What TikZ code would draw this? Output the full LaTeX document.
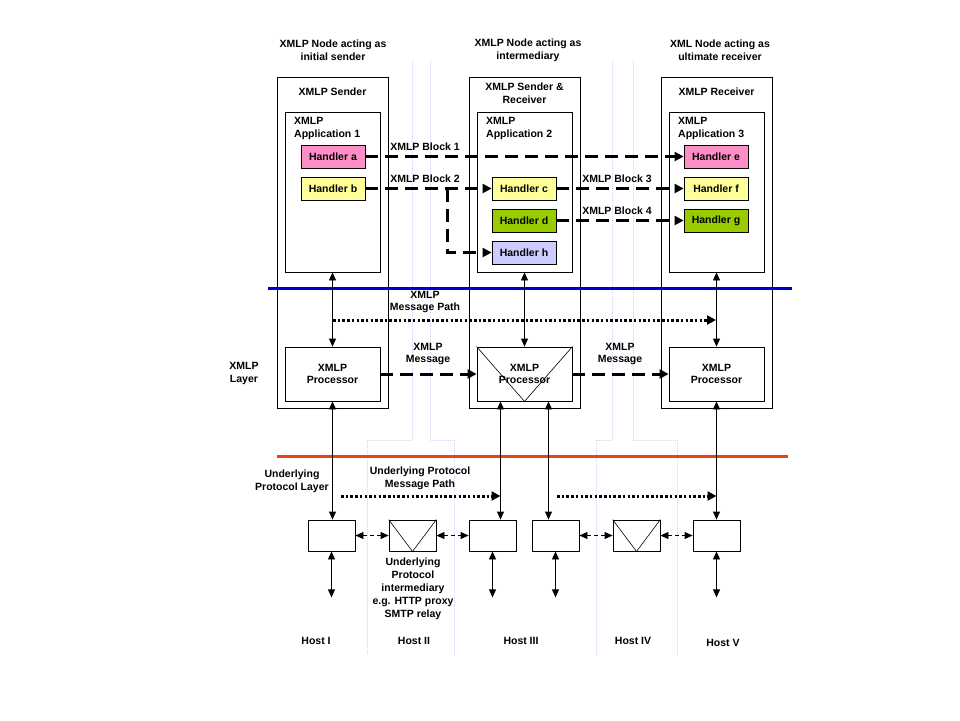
\documentclass[tikz,border=0pt]{standalone}
\usepackage{fontspec}
\setmainfont{Liberation Sans}
\usetikzlibrary{arrows.meta, positioning}

\definecolor{hpink}{HTML}{FF8EC8}
\definecolor{hyellow}{HTML}{FFFF99}
\definecolor{hgreen}{HTML}{99CC00}
\definecolor{hlav}{HTML}{CCCCFF}
\definecolor{layerblue}{HTML}{0000CC}
\definecolor{layerred}{HTML}{EE4018}
\definecolor{sepgrey}{HTML}{D4D4E8}

\tikzset{
  every node/.style={font=\fontsize{10.5}{12.7}\selectfont\bfseries},
  outerbox/.style={draw, line width=0.8pt, minimum width=111pt, minimum height=331pt, inner sep=0},
  appbox/.style={draw, line width=0.8pt, minimum width=95pt, minimum height=160pt, inner sep=0},
  handler/.style={draw, line width=0.8pt, minimum width=64pt, minimum height=23pt, inner sep=0},
  procbox/.style={draw, line width=0.8pt, minimum width=95pt, minimum height=54pt, align=center, inner sep=0},
  hostbox/.style={draw, line width=0.8pt, minimum width=47pt, minimum height=31pt, inner sep=0},
  lbl/.style={align=center, inner sep=0},
  blockarrow/.style={line width=3pt, dash pattern=on 13pt off 7pt, -{Triangle[length=9pt,width=9pt]}},
  patharrow/.style={line width=3pt, dash pattern=on 2.5pt off 2.2pt, -{Triangle[length=9pt,width=9pt]}},
  both/.style={line width=0.8pt, {Triangle[length=8pt,width=7pt]}-{Triangle[length=8pt,width=7pt]}},
  hop/.style={both, dash pattern=on 4pt off 3pt},
  sepline/.style={sepgrey, line width=0.8pt, dash pattern=on 1pt off 1pt}
}

\begin{document}
\begin{tikzpicture}[x=1pt, y=-1pt]
\useasboundingbox (0,0) rectangle (960,720);

% host separators
\draw[sepline] (412,60) -- (412,440) -- (367,440) -- (367,655);
\draw[sepline] (430,60) -- (430,440) -- (454,440) -- (454,655);
\draw[sepline] (612,60) -- (612,440) -- (596,440) -- (596,655);
\draw[sepline] (633,60) -- (633,440) -- (677,440) -- (677,655);

% the three XMLP nodes
\node[lbl] (top1) at (333,50.5) {XMLP Node acting as\\initial sender};
\node[lbl] (top2) at (528,50.5) {XMLP Node acting as\\intermediary};
\node[lbl] (top3) at (720,50.5) {XML Node acting as\\ultimate receiver};

\node[outerbox] (sender) at (332.5,242.5) {};
\node[outerbox] (inter) at (524.5,242.5) {};
\node[outerbox] (receiver) at (716.5,242.5) {};
\node[lbl] (sendertitle) at (332.5,92) {XMLP Sender};
\node[lbl] (intertitle) at (524.5,93.5) {XMLP Sender \&\\Receiver};
\node[lbl] (receivertitle) at (716.5,92) {XMLP Receiver};

\node[appbox] (app1) at (332.5,192) {};
\node[appbox] (app2) at (524.5,192) {};
\node[appbox] (app3) at (716.5,192) {};
\node[lbl, align=left, anchor=north west] (applbl1) at (294,117.5) {XMLP\\Application 1};
\node[lbl, align=left, anchor=north west] (applbl2) at (486,117.5) {XMLP\\Application 2};
\node[lbl, align=left, anchor=north west] (applbl3) at (678,117.5) {XMLP\\Application 3};

\node[handler, fill=hpink] (ha) at (333,156.5) {Handler a};
\node[handler, fill=hyellow] (hb) at (333,188.5) {Handler b};
\node[handler, fill=hyellow] (hc) at (524,188.5) {Handler c};
\node[handler, fill=hgreen] (hd) at (524,220.5) {Handler d};
\node[handler, fill=hlav] (hh) at (524,252.5) {Handler h};
\node[handler, fill=hpink] (he) at (716,156.5) {Handler e};
\node[handler, fill=hyellow] (hf) at (716,188.5) {Handler f};
\node[handler, fill=hgreen] (hg) at (716,220.5) {Handler g};

\node[lbl] (blk1) at (425,147) {XMLP Block 1};
\node[lbl] (blk2) at (425,179) {XMLP Block 2};
\node[lbl] (blk3) at (617,179) {XMLP Block 3};
\node[lbl] (blk4) at (617,211) {XMLP Block 4};

\draw[blockarrow] (ha) -- (he);
\draw[blockarrow] (hb) -- (hc);
\coordinate (split) at (447,188.5);
\draw[blockarrow] (split) |- (hh);
\draw[blockarrow] (hc) -- (hf);
\draw[blockarrow] (hd) -- (hg);

% layers
\draw[layerblue, line width=3pt] (268,288) -- (792,288);
\draw[layerred, line width=3pt] (277,456) -- (788,456);

\node[procbox] (proc1) at (332.5,374) {XMLP\\Processor};
\node[procbox] (proc2) at (524.5,374) {XMLP\\Processor};
\node[procbox] (proc3) at (716.5,374) {XMLP\\Processor};
\draw[line width=0.6pt] (proc2.north west) -- (proc2.south) -- (proc2.north east);

\draw[both] (app1) -- (proc1);
\draw[both] (app2) -- (proc2);
\draw[both] (app3) -- (proc3);

\node[lbl] (msgpath) at (425,302) {XMLP\\Message Path};
\coordinate (mpstart) at (333,320);
\coordinate (mpend) at (716,320);
\draw[patharrow] (mpstart) -- (mpend);

\node[lbl] (msg1) at (428,354) {XMLP\\Message};
\node[lbl] (msg2) at (620,354) {XMLP\\Message};
\draw[blockarrow] (proc1) -- (proc2);
\draw[blockarrow] (proc2) -- (proc3);

\node[lbl] (xmlplayer) at (244,373.5) {XMLP\\Layer};

% underlying protocol
\node[lbl] (uplayer) at (292,481) {Underlying\\Protocol Layer};
\node[lbl] (uppath) at (420,478) {Underlying Protocol\\Message Path};

\node[hostbox] (b1) at (331.5,535.5) {};
\node[hostbox] (b2) at (412.5,535.5) {};
\node[hostbox] (b3) at (492.5,535.5) {};
\node[hostbox] (b4) at (555.5,535.5) {};
\node[hostbox] (b5) at (636.5,535.5) {};
\node[hostbox] (b6) at (716.5,535.5) {};
\foreach \b in {b2,b5}
  \draw[line width=0.6pt] (\b.north west) -- (\b.south) -- (\b.north east);

\draw[both] (proc1.south) -- (proc1.south |- b1.north);
\draw[both] ([xshift=-24pt]proc2.south) -- ([xshift=-24pt]proc2.south |- b3.north);
\draw[both] ([xshift=24pt]proc2.south) -- ([xshift=24pt]proc2.south |- b4.north);
\draw[both] (proc3.south) -- (proc3.south |- b6.north);

\coordinate (up1start) at (341,496);
\coordinate (up1end) at (500.5,496);
\coordinate (up2start) at (557,496);
\coordinate (up2end) at (716.5,496);
\draw[patharrow] (up1start) -- (up1end);
\draw[patharrow] (up2start) -- (up2end);

\draw[hop] (b1) -- (b2);
\draw[hop] (b2) -- (b3);
\draw[hop] (b4) -- (b5);
\draw[hop] (b5) -- (b6);

\foreach \b in {b1,b3,b4,b6}
  \draw[both] (\b.south) -- ++(0,46);

\node[lbl, font=\fontsize{10.5}{13}\selectfont\bfseries] (interlbl) at (413,589) {Underlying\\Protocol\\intermediary\\e.g. HTTP proxy\\SMTP relay};

\node[lbl] (host1) at (316,641) {Host I};
\node[lbl] (host2) at (414,641) {Host II};
\node[lbl] (host3) at (521,641) {Host III};
\node[lbl] (host4) at (633,641) {Host IV};
\node[lbl] (host5) at (723,643) {Host V};
\end{tikzpicture}
\end{document}
